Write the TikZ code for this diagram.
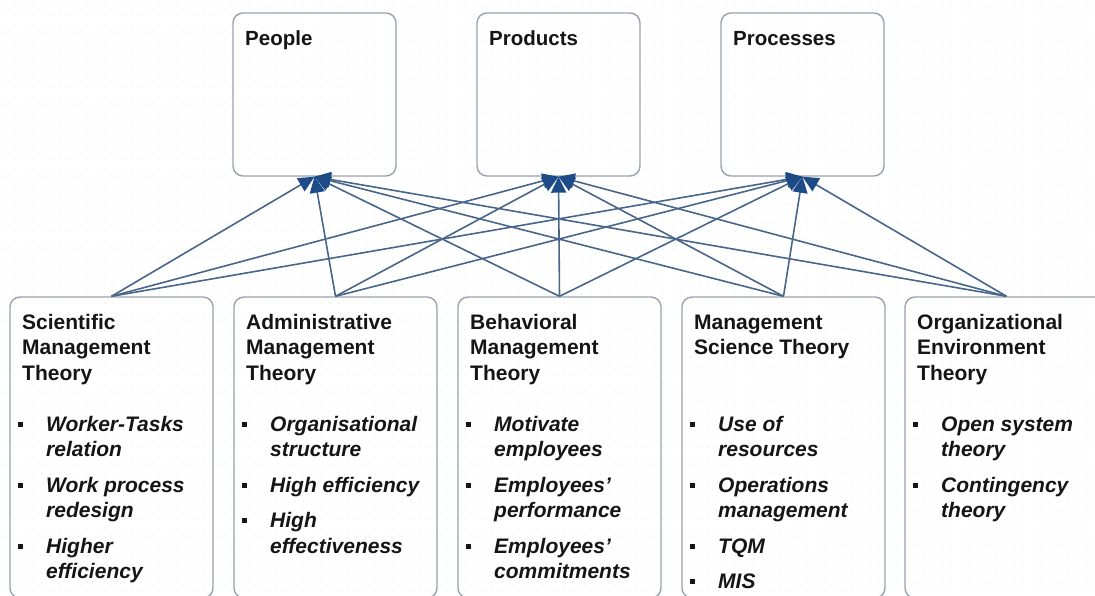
\documentclass[tikz,border=0pt]{standalone}
\usepackage{fontspec}
\setmainfont{Liberation Sans}
\usetikzlibrary{arrows.meta}

\definecolor{boxline}{HTML}{9AA1AA}
\definecolor{linkblue}{HTML}{48658A}
\definecolor{headblue}{HTML}{1D4B88}
\definecolor{ink}{HTML}{151515}
\definecolor{griddot}{HTML}{E8E8E8}

% bullet used in the theory lists
\newcommand\bulsq{\rule[4.5pt]{4.8pt}{4.8pt}}
% list entries with a hanging indent
\newcommand\firstitm[1]{\hangindent=28pt\hangafter=1\noindent\makebox[28pt][l]{\bulsq}#1}
\newcommand\nextitm[1]{\par\vspace{10pt}\firstitm{#1}}

\tikzset{
  panel/.style={draw=boxline, line width=1.4pt, rounded corners=10pt, inner sep=0pt},
  toppanel/.style={panel, minimum width=163pt, minimum height=163pt},
  lowpanel/.style={panel, minimum width=203pt, minimum height=301pt},
  headtext/.style={anchor=base west, inner sep=0pt, text=ink,
    font=\fontsize{20.5}{25.5}\selectfont\bfseries},
  ttl/.style={anchor=base west, inner sep=0pt, text=ink,
    font=\fontsize{21}{25.5}\selectfont\bfseries},
  itms/.style={anchor=base west, inner sep=0pt, text=ink,
    font=\fontsize{21}{25.5}\selectfont\bfseries\itshape},
  link/.style={draw=linkblue, line width=1.6pt,
    -{Triangle[length=16pt,width=15pt,color=headblue]}},
  gridrow/.style={draw=griddot, line width=1.5pt, line cap=round,
    dash pattern=on 0pt off 9pt},
}

\begin{document}
\begin{tikzpicture}[x=1pt,y=-1pt]
\useasboundingbox (0,0) rectangle (1095,595);
\clip (0,0) rectangle (1095,595);

% faint dotted drawing grid
\foreach \gy in {6,15,...,595}
  \draw[gridrow] (6,\gy) -- (1095,\gy);

% the three targets
\node[toppanel] (people)    at (314.5,94.5) {};
\node[toppanel] (products)  at (558.5,94.5) {};
\node[toppanel] (processes) at (802.5,94.5) {};
\node[headtext] (people-l)    at (245,45) {People};
\node[headtext] (products-l)  at (489,45) {Products};
\node[headtext] (processes-l) at (733,45) {Processes};

% the five theories
\node[lowpanel] (sci) at (111.5,447.5) {};
\node[lowpanel] (adm) at (335.5,447.5) {};
\node[lowpanel] (beh) at (559.5,447.5) {};
\node[lowpanel] (msc) at (783.5,447.5) {};
\node[lowpanel] (org) at (1006.5,447.5) {};

\node[ttl] (sci-t) at (22,329) {\parbox[t]{195pt}{Scientific\\Management\\Theory}};
\node[ttl] (adm-t) at (246,329) {\parbox[t]{195pt}{Administrative\\Management\\Theory}};
\node[ttl] (beh-t) at (470,329) {\parbox[t]{195pt}{Behavioral\\Management\\Theory}};
\node[ttl] (msc-t) at (694,329) {\parbox[t]{195pt}{Management\\Science Theory}};
\node[ttl] (org-t) at (917,329) {\parbox[t]{195pt}{Organizational\\Environment\\Theory}};

\node[itms] (sci-i) at (18,431) {\parbox[t]{195pt}{%
  \firstitm{Worker-Tasks\\relation}%
  \nextitm{Work process\\redesign}%
  \nextitm{Higher\\efficiency}}};
\node[itms] (adm-i) at (242,431) {\parbox[t]{195pt}{%
  \firstitm{Organisational\\structure}%
  \nextitm{High efficiency}%
  \nextitm{High\\effectiveness}}};
\node[itms] (beh-i) at (466,431) {\parbox[t]{195pt}{%
  \firstitm{Motivate\\employees}%
  \nextitm{Employees'\\performance}%
  \nextitm{Employees'\\commitments}}};
\node[itms] (msc-i) at (690,431) {\parbox[t]{195pt}{%
  \firstitm{Use of\\resources}%
  \nextitm{Operations\\management}%
  \nextitm{TQM}%
  \nextitm{MIS}}};
\node[itms] (org-i) at (913,431) {\parbox[t]{195pt}{%
  \firstitm{Open system\\theory}%
  \nextitm{Contingency\\theory}}};

% every theory feeds every target
\foreach \b in {sci,adm,beh,msc,org}
  \foreach \t in {people,products,processes}
    \draw[link] (\b.north) -- (\t.south);
\end{tikzpicture}
\end{document}
